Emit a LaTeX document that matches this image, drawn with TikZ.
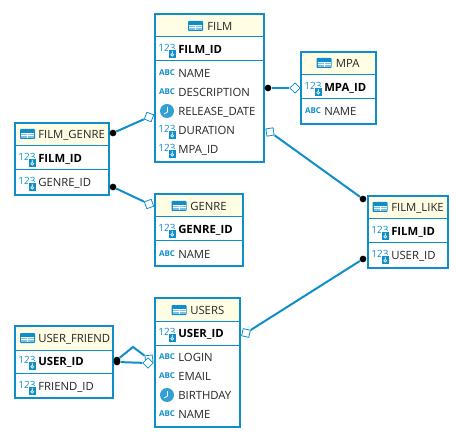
\documentclass[tikz,border=0pt]{standalone}
\usepackage{fontspec}
\setmainfont{Open Sans}
\usetikzlibrary{positioning,shapes.geometric}

\definecolor{dbblue}{HTML}{0E8FCB}
\definecolor{dbcream}{HTML}{FFFDE3}

\tikzset{
    tablebox/.style={rectangle, draw=dbblue, line width=1.9pt, inner sep=0pt, outer sep=0pt},
    headband/.style={rectangle, draw=dbblue, line width=0.75pt, fill=dbcream, inner sep=0pt, outer sep=0pt},
    rowband/.style={rectangle, draw=dbblue, line width=0.75pt, inner sep=0pt, outer sep=0pt},
    coltext/.style={inner sep=0pt, anchor=west, text height=6.1pt, text depth=0pt, font=\fontsize{8.5}{8.5}\selectfont, text=black!85},
    keytext/.style={coltext, font=\fontsize{8.5}{8.5}\selectfont\bfseries, text=black},
    headtext/.style={coltext},
    conn/.style={draw=dbblue, line width=1.5pt},
    fk dot/.style={circle, fill=black, inner sep=0pt, minimum size=5pt},
    pk end/.style={diamond, draw=dbblue, fill=white, line width=0.6pt, inner sep=0pt, minimum size=8pt},
    tableicon/.pic={
        \fill[dbblue, rounded corners=0.6pt] (-7.5,-5) rectangle (7.5,5);
        \fill[dbblue!55!white] (-6.5,-0.5) rectangle (6.5,4);
        \draw[white, line width=0.5pt] (-6.5,-0.8) -- (6.5,-0.8) (-6.5,1.6) -- (6.5,1.6) (0,-0.8) -- (0,4);
    },
    numicon/.pic={
        \node[inner sep=0pt, text=dbblue, font=\fontsize{7.5}{7.5}\selectfont] at (0,-1) {123};
        \fill[dbblue, draw=white, line width=0.4pt] (1,0) rectangle (9.5,9);
        \draw[white, line width=0.5pt] (5.2,5.8) circle (1.4) (5.2,4.4) -- (5.2,1.8);
    },
    abcicon/.pic={
        \node[inner sep=0pt, text=dbblue, font=\fontsize{6}{6}\selectfont\bfseries] at (0,0) {ABC};
    },
    clockicon/.pic={
        \fill[dbblue!85!white] (0,0) circle (7);
        \draw[white, line width=0.6pt] (0.5,-4) -- (0.5,1) -- (-3,3);
    },
}

% name, x0, x1, y0, y1, y2, y3: header and key row and rest
\newcommand{\dbtable}[7]{
    \node[headband, minimum width=#3*0.75pt-#2*0.75pt, minimum height=#5*0.75pt-#4*0.75pt, anchor=north west] (#1head) at (#2,#4) {};
    \node[rowband, minimum width=#3*0.75pt-#2*0.75pt, minimum height=#6*0.75pt-#5*0.75pt, anchor=north west] (#1key) at (#2,#5) {};
    \node[rowband, minimum width=#3*0.75pt-#2*0.75pt, minimum height=#7*0.75pt-#6*0.75pt, anchor=north west] (#1rest) at (#2,#6) {};
    \node[tablebox, minimum width=#3*0.75pt-#2*0.75pt, minimum height=#7*0.75pt-#4*0.75pt, anchor=north west] (#1) at (#2,#4) {};
}

\begin{document}
\begin{tikzpicture}[x=0.75pt, y=-0.75pt]
    \useasboundingbox (0,0) rectangle (456,434);

    % tables
    \dbtable{film}{155}{264}{14}{37}{61}{162}
    \dbtable{mpa}{301}{376}{52}{75}{99}{124}
    \dbtable{filmgenre}{15}{109}{123}{146}{170}{195}
    \dbtable{genre}{155}{243}{194}{217}{241}{266}
    \dbtable{filmlike}{368}{448}{196}{219}{243}{268}
    \dbtable{users}{155}{240}{298}{321}{345}{427}
    \dbtable{userfriend}{15}{113}{326}{350}{373}{398}

    % FILM
    \pic at (195.5,26) {tableicon};
    \node[headtext] (filmname) at (207,26) {FILM};
    \pic at (167,49) {numicon};
    \node[keytext] (filmid) at (178,49) {FILM\_ID};
    \pic at (167,73) {abcicon};
    \node[coltext] (filmc1) at (178,73) {NAME};
    \pic at (167,92) {abcicon};
    \node[coltext] (filmc2) at (178,92) {DESCRIPTION};
    \pic at (167,111) {clockicon};
    \node[coltext] (filmc3) at (178,111) {RELEASE\_DATE};
    \pic at (167,130) {numicon};
    \node[coltext] (filmc4) at (178,130) {DURATION};
    \pic at (167,149) {numicon};
    \node[coltext] (filmc5) at (178,149) {MPA\_ID};

    % MPA
    \pic at (324,63) {tableicon};
    \node[headtext] (mpaname) at (335.5,63) {MPA};
    \pic at (313,87) {numicon};
    \node[keytext] (mpaid) at (324,87) {MPA\_ID};
    \pic at (313,111) {abcicon};
    \node[coltext] (mpac1) at (324,111) {NAME};

    % FILM_GENRE
    \pic at (27.5,134) {tableicon};
    \node[headtext] (fgname) at (38,134) {FILM\_GENRE};
    \pic at (27,158) {numicon};
    \node[keytext] (fgid) at (38,158) {FILM\_ID};
    \pic at (27,182) {numicon};
    \node[coltext] (fgc1) at (38,182) {GENRE\_ID};

    % GENRE
    \pic at (179,206) {tableicon};
    \node[headtext] (genrename) at (190,206) {GENRE};
    \pic at (167,229) {numicon};
    \node[keytext] (genreid) at (178,229) {GENRE\_ID};
    \pic at (167,254) {abcicon};
    \node[coltext] (genrec1) at (178,254) {NAME};

    % FILM_LIKE
    \pic at (380,207) {tableicon};
    \node[headtext] (flname) at (391,207) {FILM\_LIKE};
    \pic at (380,231) {numicon};
    \node[keytext] (flid) at (391,231) {FILM\_ID};
    \pic at (380,255) {numicon};
    \node[coltext] (flc1) at (391,255) {USER\_ID};

    % USERS
    \pic at (179,310) {tableicon};
    \node[headtext] (usersname) at (190,310) {USERS};
    \pic at (167,333) {numicon};
    \node[keytext] (usersid) at (178,333) {USER\_ID};
    \pic at (167,357) {abcicon};
    \node[coltext] (usersc1) at (178,357) {LOGIN};
    \pic at (167,376) {abcicon};
    \node[coltext] (usersc2) at (178,376) {EMAIL};
    \pic at (167,395) {clockicon};
    \node[coltext] (usersc3) at (178,395) {BIRTHDAY};
    \pic at (167,414) {abcicon};
    \node[coltext] (usersc4) at (178,414) {NAME};

    % USER_FRIEND
    \pic at (27.5,338) {tableicon};
    \node[headtext] (ufname) at (38,338) {USER\_FRIEND};
    \pic at (27,361) {numicon};
    \node[keytext] (ufid) at (38,361) {USER\_ID};
    \pic at (27,386) {numicon};
    \node[coltext] (ufc1) at (38,386) {FRIEND\_ID};

    % connector ends
    \node[fk dot] (d1) at (268,88) {};
    \node[pk end] (p1) at (295,88) {};
    \node[fk dot] (d2) at (113,133) {};
    \node[pk end, rotate=24] (p2) at (149,117) {};
    \node[fk dot] (d3) at (113,187) {};
    \node[pk end, rotate=-25] (p3) at (149,204) {};
    \node[fk dot] (d4) at (363,199) {};
    \node[pk end, rotate=-36] (p4) at (270,132) {};
    \node[fk dot] (d5) at (363,259) {};
    \node[pk end, rotate=32] (p5) at (246,333) {};
    \node[fk dot] (d6) at (117,362) {};
    \node[fk dot] (d7) at (117,360) {};
    \node[pk end, rotate=-38] (p6) at (149,359) {};
    \node[pk end] (p7) at (148,363) {};
    \coordinate (bend) at (133,347);

    % connectors
    \draw[conn] (d1) -- (p1);
    \draw[conn] (d2) -- (p2);
    \draw[conn] (d3) -- (p3);
    \draw[conn] (d4) -- (p4);
    \draw[conn] (d5) -- (p5);
    \draw[conn] (d6) -- (p7);
    \draw[conn] (d7) -- (bend) -- (p6);
\end{tikzpicture}
\end{document}
